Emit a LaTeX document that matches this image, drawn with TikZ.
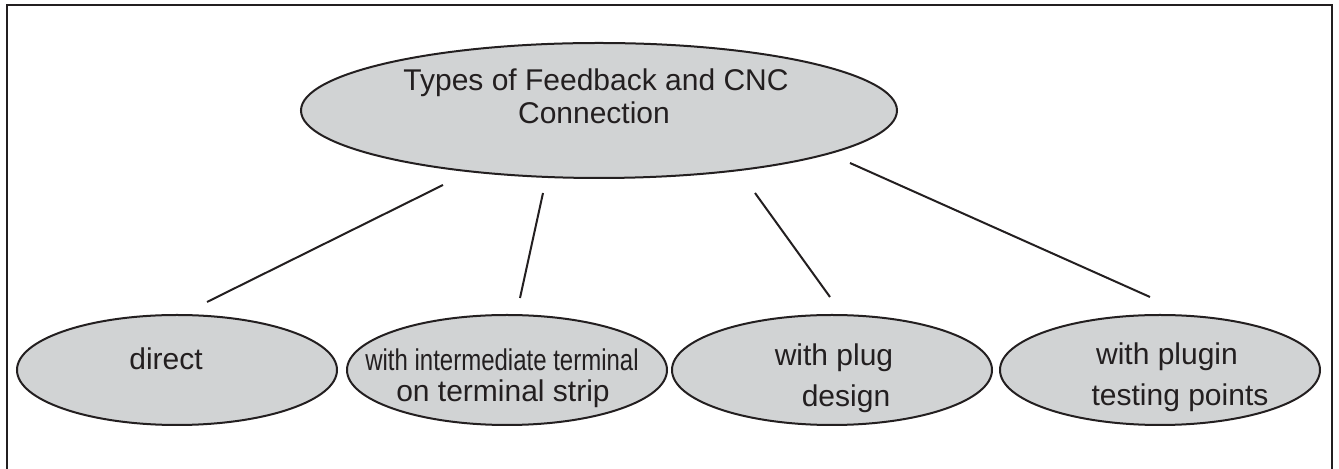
\documentclass[tikz,border=0pt]{standalone}
\usepackage{fontspec}
\setmainfont{Liberation Sans}
\usepackage{graphicx,xcolor}
\usepackage{tikz}
\usetikzlibrary{shapes.geometric,calc}
\definecolor{ink}{HTML}{231F20}
\definecolor{shade}{HTML}{D1D3D4}
\begin{document}
\begin{tikzpicture}[x=0.5pt,y=-0.5pt,
  bubble/.style={ellipse,draw=ink,line width=1pt,fill=shade,inner sep=0pt,
    minimum width=160pt,minimum height=55pt},
  hub/.style={bubble,minimum width=298pt,minimum height=67.5pt},
  txt/.style={font=\fontsize{15}{18}\selectfont,text=ink,inner sep=0pt,anchor=base},
  link/.style={draw=ink,line width=1pt}]
\useasboundingbox (0,0) rectangle (1339,469);
% open frame
\draw[ink,line width=1.4pt] (7,469) -- (7,5) -- (1332,5) -- (1332,469);
% main bubble
\node[hub] (types) at (599,110.5) {};
\node[txt] (types-a) at ($(types)+(-3,-20)$) {Types of Feedback and CNC};
\node[txt] (types-b) at ($(types)+(-5,13)$) {Connection};
% four kinds of connection
\node[bubble] (direct) at (177,370) {};
\node[txt] (direct-a) at ($(direct)+(-11,0)$) {direct};
\node[bubble] (strip) at (507,370) {};
\node[txt] (strip-a) at ($(strip)+(-5,1)$) {\scalebox{0.8}[1]{with intermediate terminal}};
\node[txt] (strip-b) at ($(strip)+(-4,32)$) {on terminal strip};
\node[bubble] (plug) at (832,370) {};
\node[txt] (plug-a) at ($(plug)+(2,-4)$) {with plug};
\node[txt] (plug-b) at ($(plug)+(14,37)$) {design};
\node[bubble] (probe) at (1160,370) {};
\node[txt] (probe-a) at ($(probe)+(7,-5)$) {with plugin};
\node[txt] (probe-b) at ($(probe)+(20,36)$) {testing points};
% loose ends of the connectors
\coordinate (t1) at (443,185);
\coordinate (s1) at (207,302);
\coordinate (t2) at (543,193);
\coordinate (s2) at (520,298);
\coordinate (t3) at (755,193);
\coordinate (s3) at (830,297);
\coordinate (t4) at (850,163);
\coordinate (s4) at (1150,297);
\draw[link] (t1) -- (s1);
\draw[link] (t2) -- (s2);
\draw[link] (t3) -- (s3);
\draw[link] (t4) -- (s4);
\end{tikzpicture}
\end{document}
